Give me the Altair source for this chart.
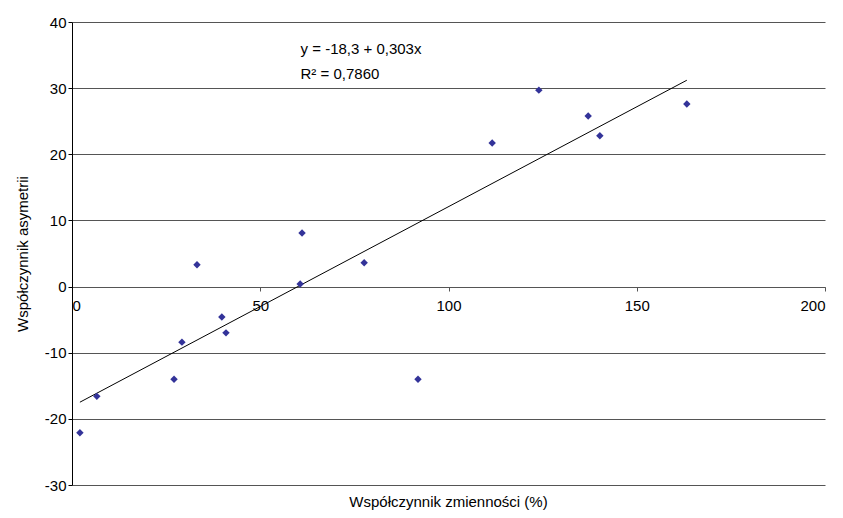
import altair as alt
import pandas as pd

# Data
cv = [2.1, 6.6, 27.1, 29.2, 33.2, 39.8, 40.9, 60.6, 61.1, 77.6, 91.9, 111.6, 124.0, 137.1, 140.2, 163.3]
skew = [-22.1, -16.6, -14.0, -8.4, 3.3, -4.6, -7.0, 0.4, 8.1, 3.6, -14.0, 21.7, 29.7, 25.8, 22.8, 27.6]

eq_lines = ["y = -18,3 + 0,303x", "R² = 0,7860"]
eq_x = [60.7, 60.7]
eq_y = [35.2, 31.4]

x_ticks = [0, 50, 100, 150, 200]
y_ticks = [-30, -20, -10, 0, 10, 20, 30, 40]

df = pd.DataFrame({"cv": cv, "skew": skew})
ann = pd.DataFrame({"t": eq_lines, "x": eq_x, "y": eq_y})

FONT = "Liberation Sans"
HYPHEN = "replace(datum.label, '\u2212', '-')"

xscale = alt.Scale(domain=[0, 200], nice=False, zero=False)
yscale = alt.Scale(domain=[-30, 40], nice=False, zero=False)

xaxis = alt.Axis(values=x_ticks, grid=False, offset=-198, domainColor="#555555",
                 tickColor="#555555", tickSize=4, labelFontSize=15, labelPadding=7,
                 labelFont=FONT, labelColor="black", title=None)
yaxis = alt.Axis(values=y_ticks, grid=True, gridColor="#555555", gridOpacity=1,
                 domainColor="black", tickColor="black", tickSize=4,
                 labelFontSize=15, labelFont=FONT, labelColor="black", labelPadding=2,
                 labelExpr=HYPHEN,
                 title="Współczynnik asymetrii", titleFont=FONT, titleFontSize=15,
                 titleFontWeight="normal", titleColor="black", titlePadding=14)

points = alt.Chart(df).mark_point(shape="diamond", filled=True, size=55, color="#333399", opacity=1).encode(
    x=alt.X("cv:Q", scale=xscale, axis=xaxis),
    y=alt.Y("skew:Q", scale=yscale, axis=yaxis),
)

trend = alt.Chart(df).transform_regression("cv", "skew").mark_line(color="black", strokeWidth=1).encode(
    x=alt.X("cv:Q", scale=xscale),
    y=alt.Y("skew:Q", scale=yscale),
)

text = alt.Chart(ann).mark_text(align="left", baseline="alphabetic", font=FONT, fontSize=15, color="black").encode(
    x=alt.X("x:Q", scale=xscale),
    y=alt.Y("y:Q", scale=yscale),
    text="t:N",
)

chart = alt.layer(trend, points, text).properties(
    width=753, height=463,
    autosize=alt.AutoSizeParams(type="none"),
    padding={"left": 64, "top": 14, "right": 10, "bottom": 33},
    title=alt.TitleParams("Współczynnik zmienności (%)", orient="bottom", font=FONT,
                          fontSize=15, fontWeight="normal", color="black", offset=2),
).configure_view(stroke=None)

chart.save("out.html", embed_options={"renderer": "svg", "actions": False})
